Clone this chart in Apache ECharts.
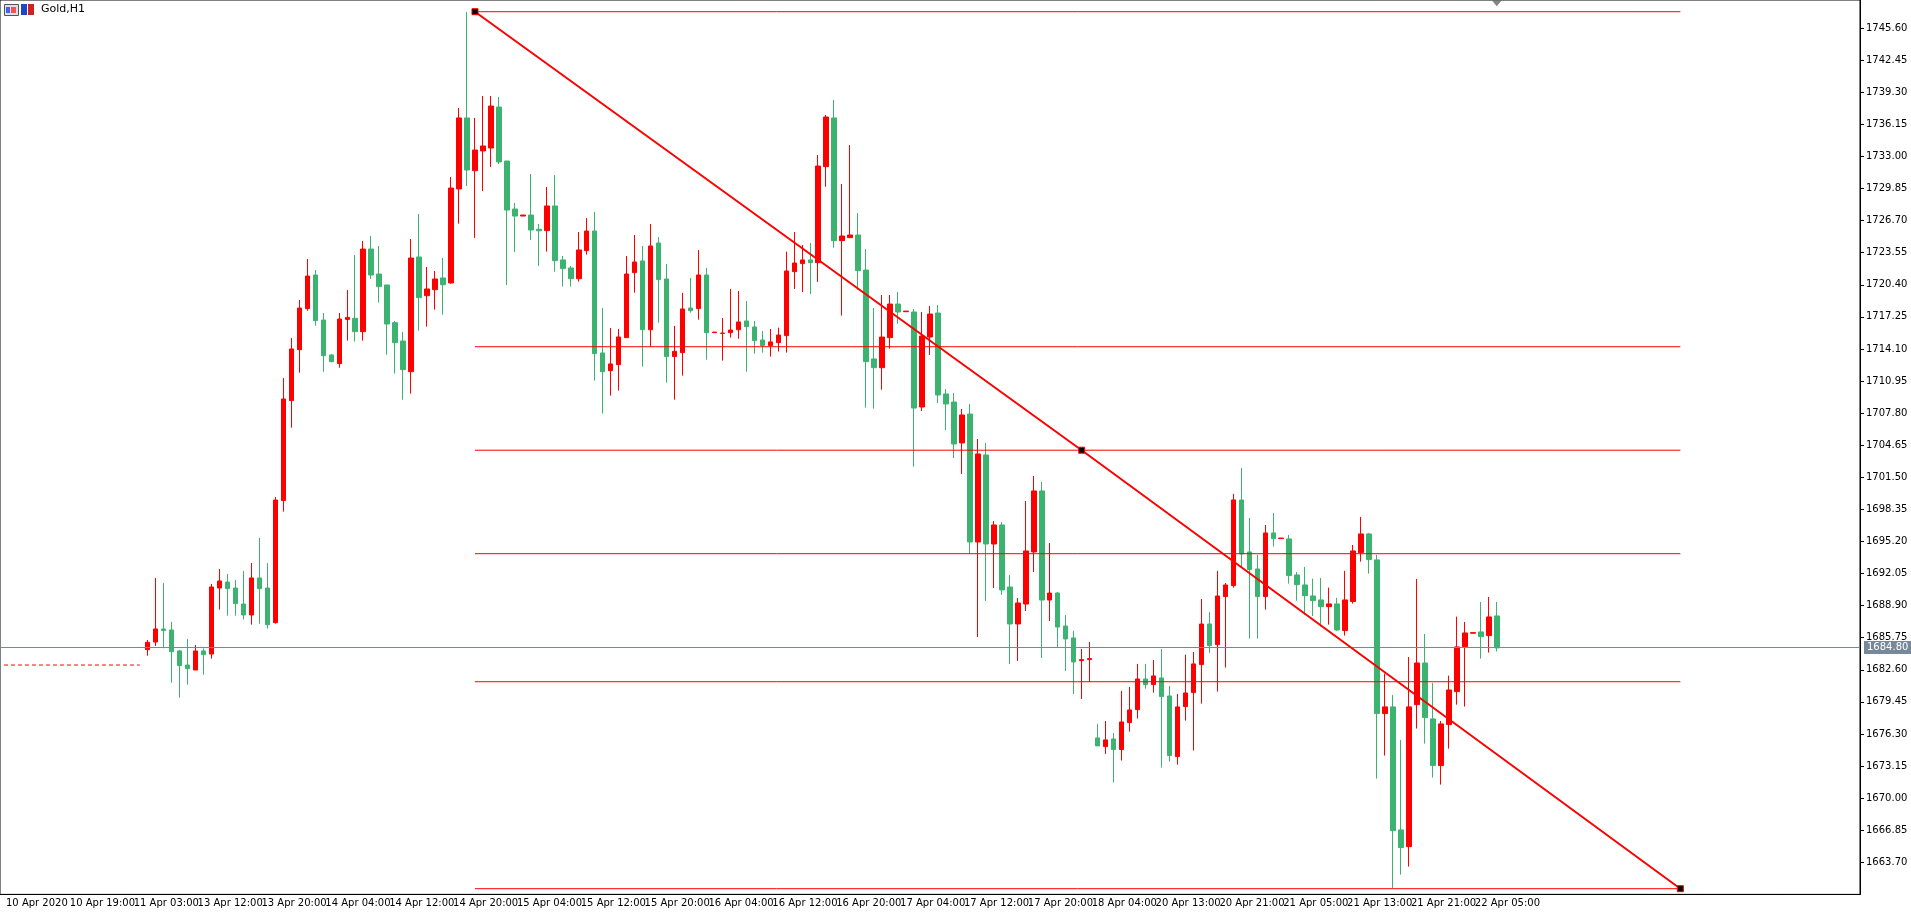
<!DOCTYPE html>
<html>
<head>
<meta charset="utf-8">
<script src="https://cdn.jsdelivr.net/npm/echarts@6/dist/echarts.min.js"></script>
<style>
html,body{margin:0;padding:0;background:#fff}
#chart{width:1911px;height:918px}
</style>
</head>
<body>
<div id="chart"></div>
<script>
// time labels, one every 8 hourly slots
var tickLabels = ['10 Apr 2020','10 Apr 19:00','11 Apr 03:00','13 Apr 12:00','13 Apr 20:00','14 Apr 04:00',
  '14 Apr 12:00','14 Apr 20:00','15 Apr 04:00','15 Apr 12:00','15 Apr 20:00','16 Apr 04:00','16 Apr 12:00',
  '16 Apr 20:00','17 Apr 04:00','17 Apr 12:00','17 Apr 20:00','18 Apr 04:00','20 Apr 13:00','20 Apr 21:00',
  '21 Apr 05:00','21 Apr 13:00','21 Apr 21:00','22 Apr 05:00'];

var opens = [1684.58,1685.33,1686.61,1686.51,1684.45,1683.07,1682.58,1684.45,1684.15,1690.63,1691.22,1690.63,1689.06,1687.98,1691.62,1690.63,1687.23,1699.21,1709.03,1714.03,
  1718.06,1721.36,1716.94,1713.51,1712.66,1717.00,1717.11,1715.80,1723.91,1721.46,1720.38,1716.68,1714.88,1711.87,1723.13,1719.33,1719.92,1721.07,1720.58,1729.81,
  1736.78,1731.60,1733.54,1733.83,1737.85,1732.55,1727.84,1727.15,1727.25,1725.85,1725.72,1728.14,1722.84,1722.05,1721.00,1723.75,1725.68,1713.71,1711.97,1712.56,
  1715.21,1721.59,1722.74,1715.99,1724.50,1720.97,1713.35,1713.74,1718.12,1718.06,1721.36,1715.70,1715.63,1715.70,1715.99,1716.85,1716.26,1714.98,1714.43,1714.72,
  1715.41,1721.69,1722.48,1722.84,1722.57,1732.00,1736.78,1724.73,1725.03,1725.29,1721.85,1713.12,1712.26,1715.21,1718.51,1717.76,1717.73,1708.40,1715.27,1717.63,
  1709.68,1708.89,1704.87,1707.71,1695.15,1703.69,1694.95,1696.82,1690.73,1687.10,1689.06,1694.17,1700.16,1689.45,1690.14,1686.90,1685.73,1683.50,1683.60,1675.91,
  1675.06,1675.81,1674.77,1677.42,1678.69,1681.70,1681.15,1681.80,1680.03,1674.08,1678.99,1680.36,1683.11,1687.10,1685.07,1689.79,1690.87,1699.27,1694.17,1692.50,
  1689.79,1696.04,1695.48,1695.45,1691.91,1690.93,1689.85,1689.46,1688.80,1689.07,1686.45,1689.30,1694.11,1695.94,1693.39,1678.30,1678.96,1666.88,1665.24,1679.18,
  1683.27,1677.78,1673.20,1677.22,1680.46,1684.88,1686.19,1686.32,1685.96,1687.89];
var closes = [1685.30,1686.61,1686.45,1684.38,1683.01,1682.71,1684.45,1684.09,1690.73,1691.32,1690.57,1689.10,1687.98,1691.62,1690.57,1687.03,1699.27,1709.19,1714.10,1718.12,
  1721.26,1716.88,1713.44,1712.85,1717.04,1717.20,1715.80,1723.91,1721.36,1720.22,1716.55,1714.72,1712.07,1723.03,1719.14,1719.99,1720.97,1720.41,1729.90,1736.78,
  1731.67,1733.63,1734.03,1737.95,1732.46,1727.74,1727.15,1727.25,1725.78,1725.70,1728.14,1722.77,1721.99,1721.00,1723.82,1725.68,1713.64,1711.87,1712.63,1715.28,
  1721.46,1722.64,1715.99,1724.21,1720.91,1713.35,1713.87,1718.03,1717.86,1721.36,1715.70,1715.76,1715.66,1715.96,1716.75,1716.29,1714.92,1714.43,1714.79,1715.47,
  1721.76,1722.54,1722.84,1722.57,1732.06,1736.87,1724.73,1725.19,1725.29,1721.79,1712.85,1712.26,1715.27,1718.51,1717.73,1717.82,1708.30,1715.37,1717.53,1709.58,
  1708.70,1704.77,1707.62,1695.15,1703.79,1694.95,1696.82,1690.44,1687.10,1689.16,1694.27,1700.16,1689.45,1690.14,1686.80,1685.63,1683.37,1683.60,1683.70,1675.13,
  1675.72,1674.77,1677.48,1678.66,1681.70,1681.15,1682.00,1679.97,1674.18,1678.96,1680.33,1683.18,1687.10,1684.98,1689.85,1690.93,1699.28,1693.97,1692.44,1689.79,
  1696.04,1695.48,1695.54,1691.85,1690.96,1689.88,1689.39,1688.80,1689.07,1686.51,1689.46,1694.27,1695.94,1693.42,1678.30,1678.96,1666.81,1665.15,1678.96,1683.27,
  1677.91,1673.20,1677.29,1680.62,1684.85,1686.22,1686.25,1685.86,1687.79,1684.75];
var lows = [1683.99,1684.94,1684.71,1681.34,1679.87,1681.14,1682.58,1682.12,1683.70,1688.51,1687.92,1687.92,1687.53,1687.03,1687.13,1686.64,1687.13,1698.13,1706.37,1711.77,
  1717.86,1716.39,1711.87,1712.80,1712.26,1714.92,1714.82,1714.92,1720.97,1718.65,1713.54,1711.68,1709.12,1709.71,1715.90,1716.29,1717.96,1717.47,1720.51,1726.40,
  1730.10,1725.00,1729.61,1731.97,1732.26,1720.38,1723.62,1727.15,1724.80,1722.25,1723.65,1721.69,1720.22,1720.22,1720.71,1723.36,1710.99,1707.75,1709.52,1710.01,
  1715.21,1719.63,1712.36,1714.33,1716.68,1710.79,1709.12,1711.48,1717.67,1716.98,1713.05,1715.70,1712.95,1715.21,1715.11,1711.87,1713.64,1713.74,1713.35,1713.84,
  1713.74,1719.99,1719.69,1719.50,1720.68,1730.03,1724.05,1717.37,1725.03,1719.92,1708.34,1708.24,1710.10,1714.13,1716.58,1717.76,1702.54,1708.01,1713.51,1708.79,
  1706.14,1703.39,1701.82,1693.97,1685.82,1689.36,1690.63,1689.95,1683.17,1683.47,1688.37,1692.20,1683.76,1687.39,1684.84,1682.48,1680.23,1679.74,1681.41,1675.13,
  1674.34,1671.53,1673.69,1676.53,1677.81,1680.75,1680.36,1673.00,1673.59,1673.29,1677.61,1674.67,1679.28,1684.26,1680.46,1682.82,1690.67,1692.60,1685.66,1685.66,
  1688.51,1694.70,1695.48,1691.06,1689.39,1688.02,1687.89,1686.84,1687.04,1686.42,1685.96,1689.10,1693.22,1692.04,1671.92,1674.18,1661.19,1662.49,1663.28,1676.83,
  1675.36,1672.02,1671.33,1674.86,1679.18,1678.99,1686.19,1683.70,1684.29,1684.39];
var highs = [1685.53,1691.62,1691.13,1687.30,1684.55,1685.63,1685.04,1684.71,1691.03,1692.50,1692.01,1691.42,1692.30,1693.09,1695.54,1693.09,1699.57,1711.25,1715.18,1718.91,
  1722.93,1721.85,1717.63,1713.60,1717.63,1719.89,1723.33,1724.70,1725.19,1724.21,1720.38,1716.85,1715.77,1724.90,1727.35,1722.15,1721.76,1723.03,1730.98,1737.76,
  1747.18,1736.78,1738.94,1738.94,1738.84,1732.55,1728.43,1727.25,1731.28,1726.37,1730.00,1731.18,1723.23,1722.25,1725.58,1726.96,1727.55,1718.12,1716.16,1716.06,
  1723.23,1725.29,1724.21,1726.37,1725.09,1722.44,1716.36,1719.60,1721.07,1723.82,1722.05,1715.76,1717.14,1719.99,1719.79,1718.81,1716.85,1715.86,1716.06,1716.19,
  1723.65,1725.58,1724.31,1724.50,1733.14,1737.07,1738.54,1730.30,1734.12,1727.45,1723.91,1718.12,1719.40,1719.40,1719.69,1717.82,1718.02,1717.73,1718.32,1718.42,
  1710.17,1709.78,1708.21,1708.70,1705.26,1704.87,1697.21,1697.11,1691.91,1689.65,1699.17,1701.63,1701.04,1695.05,1690.24,1687.98,1686.42,1684.65,1685.34,1677.29,
  1677.58,1676.40,1680.53,1680.92,1683.18,1683.18,1683.57,1684.65,1681.02,1680.23,1684.09,1684.35,1689.56,1688.28,1692.31,1691.13,1699.87,1702.42,1697.51,1693.88,
  1696.82,1698.00,1695.54,1695.84,1692.21,1692.70,1691.55,1691.62,1690.67,1689.66,1692.31,1694.86,1697.61,1696.04,1693.88,1682.23,1680.13,1675.71,1683.86,1691.52,
  1686.12,1681.31,1677.58,1682.03,1687.82,1687.30,1686.25,1689.26,1689.75,1689.26];

var fibLevels = [0, 23.6, 38.2, 50, 61.8, 100];
var fibHigh = 1747.21, fibLow = 1661.11;
var lastPrice = 1684.80;
var alertPrice = 1683.07;

var SLOTS = 233, FIRST = 18;        // candles start at slot 18
var FIB_FROM = FIRST + 41, FIB_TO = FIRST + 192;

var cats = [];
for (var j = 0; j < SLOTS; j++) cats.push(j % 8 === 0 && tickLabels[j / 8] ? tickLabels[j / 8] : '');

var ohlc = [];
for (var j = 0; j < SLOTS; j++) {
  var i = j - FIRST;
  if (i >= 0 && i < opens.length) ohlc.push([opens[i], closes[i], lows[i], highs[i]]);
  else ohlc.push('-');
}

var fibSeries = fibLevels.map(function (lv) {
  var v = fibLow + lv / 100 * (fibHigh - fibLow);
  return {
    type: 'line', z: 5, silent: true, symbol: 'none',
    lineStyle: {color: '#ff0000', width: 1},
    label: {show: false},
    data: [[FIB_FROM, v], {value: [FIB_TO, v], label: {
      show: true, position: 'top', align: 'right', offset: [-3, 2], distance: 1,
      formatter: lv.toFixed(1), color: '#ff0000', fontSize: 9, fontFamily: 'Tahoma, DejaVu Sans'
    }}]
  };
});

var chart = echarts.init(document.getElementById('chart'));
var option = {
  animation: false,
  backgroundColor: '#fff',
  grid: {left: -4, right: 51, top: 0, bottom: 23.6, show: true, borderColor: '#000', borderWidth: 1},
  xAxis: {
    type: 'category', data: cats, boundaryGap: true,
    axisLine: {lineStyle: {color: '#000'}},
    axisTick: {alignWithLabel: true, length: 4, lineStyle: {color: '#000'},
      interval: function (idx) { return idx % 8 === 0; }},
    axisLabel: {interval: function (idx) { return idx % 8 === 0; }, align: 'left', margin: 4,
      color: '#000', fontSize: 10, fontFamily: 'Tahoma, DejaVu Sans', padding: [0, 0, 0, 2]},
    splitLine: {show: false}
  },
  yAxis: {
    type: 'value', position: 'right', scale: true,
    min: 1660.55, max: 1748.36, interval: 3.15,
    axisLine: {show: true, lineStyle: {color: '#000'}},
    axisTick: {show: true, length: 4, lineStyle: {color: '#000'}},
    axisLabel: {showMinLabel: false, showMaxLabel: false, margin: 6, color: '#000', fontSize: 10,
      fontFamily: 'Tahoma, DejaVu Sans', formatter: function (v) { return v.toFixed(2); }},
    splitLine: {show: false}
  },
  series: [{
    type: 'candlestick', data: ohlc, barWidth: 5,
    itemStyle: {color: '#ff0000', color0: '#3cb371', borderColor: '#ff0000', borderColor0: '#3cb371', borderWidth: 1},
    markLine: {
      silent: true, symbol: 'none', animation: false,
      lineStyle: {color: '#778899', width: 1, type: 'solid'},
      label: {position: 'end', distance: 4, formatter: lastPrice.toFixed(2), color: '#fff',
        backgroundColor: '#778899', padding: [2, 3, 1, 3], fontSize: 10, fontFamily: 'Tahoma, DejaVu Sans'},
      data: [{yAxis: lastPrice}]
    }
  }, {
    type: 'line', silent: true, symbol: 'none', z: 4,
    lineStyle: {color: '#ff0000', width: 1, type: [4, 3]},
    data: [[0, alertPrice], [FIRST - 1, alertPrice]]
  }].concat(fibSeries).concat([{
    type: 'line', silent: true, z: 6,
    lineStyle: {color: '#ff0000', width: 2},
    symbol: 'rect', symbolSize: 6, showAllSymbol: true,
    itemStyle: {color: '#000', borderColor: '#ff0000', borderWidth: 1},
    data: [[FIB_FROM, fibHigh], [(FIB_FROM + FIB_TO) / 2, (fibHigh + fibLow) / 2], [FIB_TO, fibLow]]
  }, {
    type: 'scatter', silent: true, z: 7,
    symbol: 'triangle', symbolRotate: 180, symbolSize: [10, 6],
    itemStyle: {color: '#666'},
    data: [[FIRST + opens.length - 1, 1748.05]]
  }]),
  graphic: [
    {type: 'rect', left: 4, top: 4, shape: {width: 14, height: 11}, style: {fill: '#dde', stroke: '#555'}},
    {type: 'rect', left: 6, top: 7, shape: {width: 4, height: 6}, style: {fill: '#4466dd'}},
    {type: 'rect', left: 11, top: 7, shape: {width: 5, height: 6}, style: {fill: '#ee5555'}},
    {type: 'rect', left: 21, top: 4, shape: {width: 6, height: 11}, style: {fill: '#2244cc'}},
    {type: 'rect', left: 28, top: 4, shape: {width: 6, height: 11}, style: {fill: '#cc2222'}},
    {type: 'text', left: 41, top: 4, style: {text: 'Gold,H1', fill: '#000', fontSize: 11, fontFamily: 'Tahoma, DejaVu Sans'}}
  ]
};
chart.setOption(option);
</script>
</body>
</html>
